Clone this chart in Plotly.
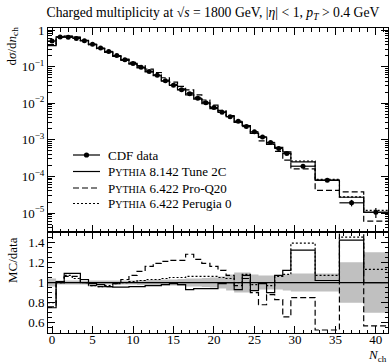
import plotly.graph_objects as go
from plotly.subplots import make_subplots

# ---- data ----
bin_edges = [-0.5 + i for i in range(31)] + [32.5, 35.5, 38.5, 41.5]
n_ch = list(range(30)) + [31, 34, 37, 40]

cdf_data = [0.50, 0.64, 0.63, 0.59, 0.51, 0.41, 0.32, 0.26, 0.20, 0.155,
            0.122, 0.096, 0.074, 0.058, 0.041, 0.031, 0.0235, 0.018, 0.0137, 0.0103,
            0.0076, 0.0057, 0.0043, 0.0032, 0.0023, 0.00166, 0.0012, 0.00085, 0.00058, 0.00042,
            1.9e-4, 7.8e-5, 1.9e-5, 1.05e-5]
data_rel_err = [0.04, 0.02, 0.02, 0.02, 0.02, 0.02, 0.02, 0.02, 0.02, 0.02,
                0.02, 0.025, 0.025, 0.03, 0.03, 0.03, 0.035, 0.04, 0.04, 0.045,
                0.05, 0.06, 0.08, 0.10, 0.10, 0.08, 0.07, 0.07, 0.07, 0.08,
                0.09, 0.09, 0.20, 0.30]

ratio_tune2c = [0.75, 1.01, 1.09, 1.09, 1.03, 0.99, 0.98, 0.96, 0.955, 0.955,
                0.96, 0.96, 0.97, 0.97, 0.98, 0.99, 0.98, 0.93, 0.94, 0.94,
                0.94, 0.99, 1.00, 0.93, 1.07, 0.92, 0.99, 0.90, 1.07, 1.12,
                1.32, 1.02, 1.42, 1.00]
ratio_proq20 = [0.76, 1.00, 1.06, 1.06, 1.00, 0.97, 0.96, 0.96, 0.99, 1.03,
                1.07, 1.11, 1.16, 1.19, 1.21, 1.22, 1.22, 1.28, 1.23, 1.19,
                1.16, 1.12, 1.07, 0.97, 1.04, 0.90, 0.78, 0.88, 0.83, 0.66,
                0.85, 0.53, 2.00, 0.57]
ratio_perugia0 = [0.80, 1.00, 1.07, 1.04, 1.00, 0.97, 0.96, 0.97, 0.99, 1.00,
                  1.01, 1.02, 1.03, 1.03, 1.04, 1.05, 1.05, 1.06, 1.06, 1.06,
                  1.06, 1.05, 1.04, 1.00, 1.08, 0.98, 1.00, 0.97, 1.06, 1.08,
                  1.39, 1.07, 1.45, 1.13]

y_tickvals = [1e-5, 1e-4, 1e-3, 1e-2, 1e-1, 1]
y_ticktext = ["10<sup>−5</sup>", "10<sup>−4</sup>", "10<sup>−3</sup>",
              "10<sup>−2</sup>", "10<sup>−1</sup>", "1"]
r_tickvals = [0.6, 0.8, 1.0, 1.2, 1.4]
r_ticktext = ["0.6", "0.8", "1", "1.2", "1.4"]

FONT = "Liberation Serif"
SC = "<span style='font-size:10px'>YTHIA</span>"
names = ["P" + SC + " 8.142 Tune 2C", "P" + SC + " 6.422 Pro-Q20", "P" + SC + " 6.422 Perugia 0"]
dashes = ["solid", "6px,3px", "2px,2px"]
ratios = [ratio_tune2c, ratio_proq20, ratio_perugia0]

W, H = 389, 364
ML, MR, MT, MB = 48, 1, 28, 31
PW, PH = W - ML - MR, H - MT - MB


def px_x(px):
    return (px - ML) / PW


def px_y(py):
    return (H - MB - py) / PH


def step(vals):
    return list(vals) + [vals[-1]]


half_w = [(bin_edges[i + 1] - bin_edges[i]) / 2 for i in range(len(n_ch))]

fig = make_subplots(rows=2, cols=1, shared_xaxes=False, vertical_spacing=0,
                    row_heights=[0.669, 0.331])

# MC in main panel
for nm, ds, rt in zip(names, dashes, ratios):
    mc = [d * r for d, r in zip(cdf_data, rt)]
    fig.add_trace(go.Scatter(x=bin_edges, y=step(mc), mode="lines", line_shape="hv",
                             name=nm, showlegend=False,
                             line=dict(color="black", width=1.2, dash=ds)),
                  row=1, col=1)

# data points
fig.add_trace(go.Scatter(x=n_ch, y=cdf_data, mode="markers", showlegend=False, name="CDF data",
                         marker=dict(color="black", size=5),
                         error_x=dict(type="data", array=half_w, color="black", thickness=1.2, width=0),
                         error_y=dict(type="data", array=[v * e for v, e in zip(cdf_data, data_rel_err)],
                                      color="black", thickness=1.2, width=0)),
              row=1, col=1)

# ratio panel: band
fig.add_trace(go.Scatter(x=bin_edges, y=step([1 - e for e in data_rel_err]), mode="lines",
                         line_shape="hv", line=dict(width=0, color="#c0c0c0"),
                         showlegend=False, hoverinfo="skip"), row=2, col=1)
fig.add_trace(go.Scatter(x=bin_edges, y=step([1 + e for e in data_rel_err]), mode="lines",
                         line_shape="hv", line=dict(width=0, color="#c0c0c0"),
                         fill="tonexty", fillcolor="#c0c0c0",
                         showlegend=False, hoverinfo="skip"), row=2, col=1)
fig.add_trace(go.Scatter(x=[bin_edges[0], bin_edges[-1]], y=[1, 1], mode="lines",
                         line=dict(color="black", width=1.2), showlegend=False), row=2, col=1)
for nm, ds, rt in zip(names, dashes, ratios):
    fig.add_trace(go.Scatter(x=bin_edges, y=step(rt), mode="lines", line_shape="hv",
                             showlegend=False, line=dict(color="black", width=1.2, dash=ds)),
                  row=2, col=1)

axis_common = dict(showline=True, linecolor="black", linewidth=1, mirror="allticks",
                   ticks="inside", tickcolor="black", showgrid=False, zeroline=False,
                   tickfont=dict(family=FONT, size=13, color="black"))

fig.update_xaxes(range=[-0.5, 41.5], tick0=0, dtick=5, ticklen=7,
                 minor=dict(dtick=1, tick0=0, ticklen=3.5, ticks="inside", tickcolor="black"),
                 **axis_common)
fig.update_xaxes(showticklabels=False, row=1, col=1)
fig.update_xaxes(showticklabels=True, ticklabelstandoff=-6, row=2, col=1)

fig.update_yaxes(type="log", range=[-5.52, 0.055], tickvals=y_tickvals, ticktext=y_ticktext,
                 ticklen=7, minor=dict(dtick="D1", ticklen=3.5, ticks="inside", tickcolor="black"),
                 row=1, col=1, **axis_common)
fig.update_yaxes(range=[0.5, 1.5], tickvals=r_tickvals, ticktext=r_ticktext, ticklen=7,
                 minor=dict(dtick=0.05, tick0=0.5, ticklen=3.5, ticks="inside", tickcolor="black"),
                 row=2, col=1, **axis_common)

# ---- hand-drawn legend (layout decoration) ----
legend_labels = ["CDF data"] + names
legend_dashes = ["solid"] + dashes
row_px = [155, 171.5, 188, 203.5]
shapes = []
annotations = []
for lab, ds, ry in zip(legend_labels, legend_dashes, row_px):
    shapes.append(dict(type="line", xref="paper", yref="paper", x0=px_x(73), x1=px_x(100),
                       y0=px_y(ry), y1=px_y(ry), line=dict(color="black", width=1.2, dash=ds)))
    annotations.append(dict(text=lab, xref="paper", yref="paper", x=px_x(106), y=px_y(ry),
                            xanchor="left", yanchor="middle", showarrow=False,
                            font=dict(family=FONT, size=13, color="black")))
shapes.append(dict(type="circle", xref="paper", yref="paper", xsizemode="pixel", ysizemode="pixel",
                   xanchor=px_x(86.5), yanchor=px_y(row_px[0]), x0=-2.6, x1=2.6, y0=-2.6, y1=2.6,
                   fillcolor="black", line=dict(color="black", width=0)))

annotations += [
    dict(text="d<i>σ</i>/d<i>n</i><sub>ch</sub>", textangle=-90, xref="paper", yref="paper",
         x=px_x(12), y=1.01, xanchor="center", yanchor="top", showarrow=False,
         font=dict(family=FONT, size=13, color="black")),
    dict(text="MC/data", textangle=-90, xref="paper", yref="paper",
         x=px_x(12), y=px_y(235), xanchor="center", yanchor="top", showarrow=False,
         font=dict(family=FONT, size=13, color="black")),
    dict(text="<i>N</i><sub>ch</sub>", xref="paper", yref="paper",
         x=1, y=px_y(364.5), xanchor="right", yanchor="bottom", showarrow=False,
         borderpad=0, font=dict(family=FONT, size=13, color="black")),
]

fig.update_layout(
    width=W, height=H,
    margin=dict(l=ML, r=MR, t=MT, b=MB),
    plot_bgcolor="white", paper_bgcolor="white",
    font=dict(family=FONT, size=13, color="black"),
    title=dict(text="Charged multiplicity at √<i>s</i> = 1800 GeV, |<i>η</i>| &lt; 1, <i>p</i><sub><i>T</i></sub> &gt; 0.4 GeV",
               x=px_x(213), xref="paper", xanchor="center", y=1 - 12 / H, yref="container",
               yanchor="middle", font=dict(family=FONT, size=13.7, color="black")),
    showlegend=False,
    shapes=shapes,
    annotations=annotations,
)

fig.write_html("out.html", config={"displayModeBar": False},
               post_script="document.body.style.margin='0';document.body.style.overflow='hidden';")
